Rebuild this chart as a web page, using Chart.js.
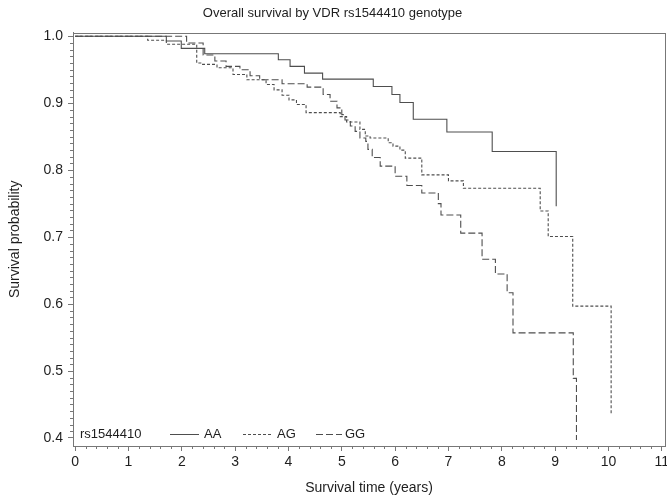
<!DOCTYPE html>
<html><head><meta charset="utf-8">
<script src="https://cdn.jsdelivr.net/npm/chart.js@4.4.1/dist/chart.umd.min.js"></script>
<style>html,body{margin:0;padding:0;background:#fff}#wrap{width:667px;height:498px}</style>
</head><body><div id="wrap"><canvas id="c" width="667" height="498"></canvas></div>
<script>
const chartTitle = 'Overall survival by VDR rs1544410 genotype';
const xTitle = 'Survival time (years)';
const yTitle = 'Survival probability';
const legendTitle = 'rs1544410';
const genotypes = ['AA', 'AG', 'GG'];
const xTicks = [0, 1, 2, 3, 4, 5, 6, 7, 8, 9, 10, 11];
const yTicks = [0.4, 0.5, 0.6, 0.7, 0.8, 0.9, 1.0];

const aaTime = [0, 1.71, 1.99, 2.43, 3.81, 4.03, 4.30, 4.64, 5.59, 5.94, 6.09, 6.34, 6.97, 7.82, 9.02];
const aaSurv = [1.0, 0.993, 0.982, 0.974, 0.965, 0.955, 0.945, 0.936, 0.925, 0.913, 0.901, 0.876, 0.857, 0.828, 0.746];

const agTime = [0, 1.36, 1.71, 2.28, 2.39, 2.66, 2.96, 3.22, 3.58, 3.73, 3.88, 4.01, 4.15, 4.33, 4.97, 5.09, 5.34, 5.44, 5.53, 5.87, 5.96, 6.09, 6.19, 6.50, 7.00, 7.28, 8.72, 8.87, 9.33, 10.05];
const agSurv = [1.0, 0.994, 0.988, 0.960, 0.958, 0.953, 0.943, 0.935, 0.928, 0.920, 0.912, 0.905, 0.898, 0.886, 0.880, 0.872, 0.861, 0.851, 0.848, 0.841, 0.836, 0.830, 0.818, 0.793, 0.784, 0.773, 0.739, 0.701, 0.597, 0.434];

const ggTime = [0, 2.09, 2.40, 2.62, 2.83, 3.09, 3.28, 3.46, 3.88, 4.35, 4.65, 4.78, 4.91, 5.00, 5.06, 5.16, 5.25, 5.34, 5.45, 5.49, 5.57, 5.72, 6.00, 6.22, 6.50, 6.81, 6.86, 7.23, 7.63, 7.88, 8.10, 8.21, 9.34, 9.40];
const ggSurv = [1.0, 0.990, 0.972, 0.963, 0.955, 0.950, 0.941, 0.935, 0.929, 0.924, 0.913, 0.903, 0.893, 0.883, 0.875, 0.866, 0.858, 0.848, 0.843, 0.831, 0.819, 0.806, 0.791, 0.777, 0.766, 0.750, 0.733, 0.706, 0.667, 0.645, 0.617, 0.557, 0.489, 0.397];

const FONT = "'Liberation Sans', Arial, Helvetica, sans-serif";
const TEXT = '#1e1e1e';
const AXIS = '#777777';
const LINE = '#4e4e4e';

function zip(t, s) { return t.map((v, i) => ({ x: v, y: s[i] })); }

const styles = { AA: [], AG: [3, 2], GG: [7, 3] };
const seriesData = { AA: zip(aaTime, aaSurv), AG: zip(agTime, agSurv), GG: zip(ggTime, ggSurv) };

const datasets = genotypes.map(g => ({
  label: g,
  data: seriesData[g],
  stepped: true,
  borderColor: LINE,
  borderWidth: 1.1,
  borderDash: styles[g],
  pointRadius: 0,
  fill: false
}));

const minorTicks = {
  id: 'minorTicks',
  afterDraw(chart) {
    const { ctx, chartArea: a, scales: { x, y } } = chart;
    ctx.save();
    ctx.strokeStyle = AXIS;
    ctx.lineWidth = 1;
    ctx.beginPath();
    for (let i = 0; i <= 55; i++) {
      if (i % 5 === 0) continue;
      const px = Math.round(x.getPixelForValue(i * 0.2)) + 0.5;
      ctx.moveTo(px, a.bottom); ctx.lineTo(px, a.bottom + 3);
    }
    for (let i = 40; i <= 100; i++) {
      if (i % 10 === 0) continue;
      const py = Math.round(y.getPixelForValue(i / 100)) + 0.5;
      ctx.moveTo(a.left - 3, py); ctx.lineTo(a.left, py);
    }
    ctx.stroke();
    ctx.strokeRect(Math.round(a.left) + 0.5, Math.round(a.top) + 0.5, Math.round(a.right - a.left), Math.round(a.bottom - a.top));
    ctx.restore();
  }
};

const insideLegend = {
  id: 'insideLegend',
  afterDraw(chart) {
    const { ctx } = chart;
    const ly = 434;
    ctx.save();
    ctx.font = '13px ' + FONT;
    ctx.fillStyle = TEXT;
    ctx.textBaseline = 'middle';
    ctx.textAlign = 'left';
    ctx.fillText(legendTitle, 80, ly);
    const items = [[170, 199, 204], [243, 273, 277], [316, 342, 345]];
    chart.data.datasets.forEach((ds, i) => {
      const [x0, x1, tx] = items[i];
      ctx.strokeStyle = ds.borderColor;
      ctx.lineWidth = 1;
      ctx.setLineDash(ds.borderDash);
      ctx.beginPath();
      ctx.moveTo(x0, ly + 0.5); ctx.lineTo(x1, ly + 0.5);
      ctx.stroke();
      ctx.setLineDash([]);
      ctx.fillText(ds.label, tx, ly);
    });
    ctx.restore();
  }
};

new Chart(document.getElementById('c'), {
  type: 'line',
  data: { datasets },
  options: {
    responsive: false,
    devicePixelRatio: 1,
    animation: false,
    events: [],
    layout: { padding: { left: 0, right: 2, top: 0, bottom: 0 } },
    plugins: {
      legend: { display: false },
      tooltip: { enabled: false },
      title: {
        display: true, text: chartTitle, color: TEXT,
        font: { family: FONT, size: 13, weight: 'normal' },
        padding: { top: 6, bottom: 11 }
      }
    },
    scales: {
      x: {
        type: 'linear', min: -0.04, max: 11.06,
        afterBuildTicks: s => { s.ticks = xTicks.map(v => ({ value: v })); },
        ticks: { color: TEXT, font: { family: FONT, size: 14 }, padding: 3, maxRotation: 0, autoSkip: false, callback: v => String(v) },
        grid: { display: true, drawOnChartArea: false, drawTicks: true, tickLength: 5, color: AXIS },
        border: { display: true, color: AXIS },
        title: { display: true, text: xTitle, color: TEXT, font: { family: FONT, size: 14 }, padding: { top: 0, bottom: 1.5 } },
        afterFit: s => { s.height = 52; s.paddingLeft = 0; s.paddingRight = 0; }
      },
      y: {
        type: 'linear', min: 0.388, max: 1.0055,
        afterBuildTicks: s => { s.ticks = yTicks.map(v => ({ value: v })); },
        ticks: { color: TEXT, font: { family: FONT, size: 14 }, padding: 5, autoSkip: false, callback: v => Number(v).toFixed(1) },
        grid: { display: true, drawOnChartArea: false, drawTicks: true, tickLength: 5, color: AXIS },
        border: { display: true, color: AXIS },
        title: { display: true, text: yTitle, color: TEXT, font: { family: FONT, size: 14 }, padding: { top: 7, bottom: 0 } },
        afterFit: s => { s.width = 73; s.paddingTop = 0; s.paddingBottom = 0; }
      }
    }
  },
  plugins: [minorTicks, insideLegend]
});
</script>
</body></html>
